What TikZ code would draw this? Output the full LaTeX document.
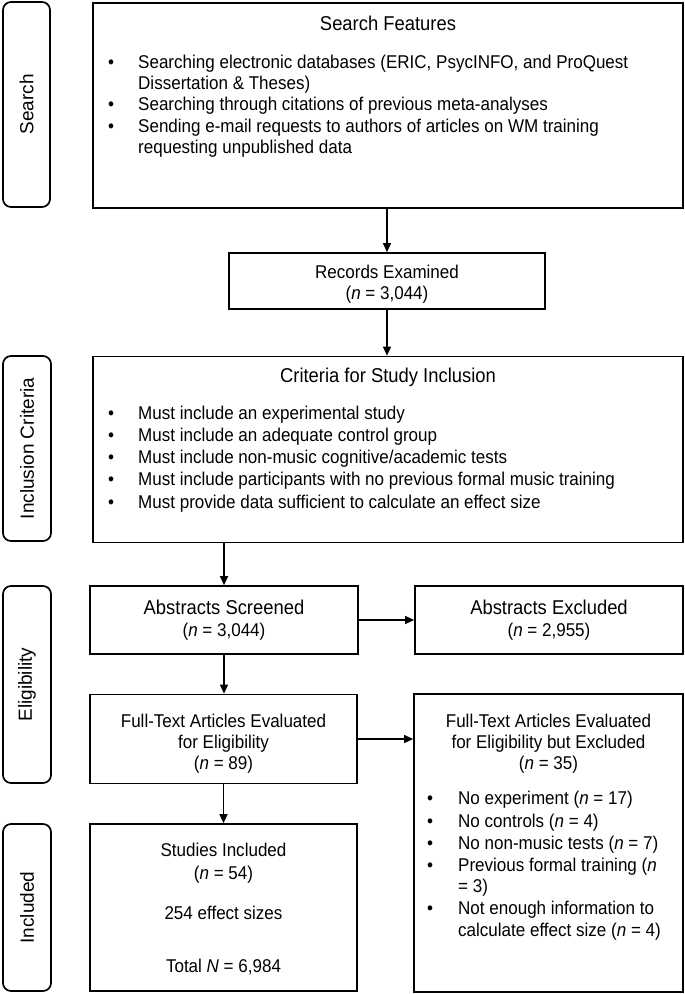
\documentclass[tikz,border=0pt]{standalone}
\usepackage{fontspec}
\setmainfont{Liberation Sans}[FakeStretch=0.92]
\newfontfamily\labfont{Liberation Sans}
\usetikzlibrary{arrows.meta}
\begin{document}
\begin{tikzpicture}[x=1pt,y=-1pt,
  box/.style={draw, line width=1.7pt, inner sep=0pt},
  side/.style={draw, line width=1.7pt, rounded corners=8pt, inner sep=0pt},
  arr/.style={line width=1.3pt, -{Triangle[length=9pt,width=8pt]}},
  tb/.style={anchor=base, inner sep=0pt, font=\fontsize{18.5}{22}\selectfont},
  tt/.style={anchor=base, inner sep=0pt, font=\fontsize{20}{24}\selectfont},
  tl/.style={anchor=base west, inner sep=0pt, font=\fontsize{18.5}{22}\selectfont},
  bul/.style={anchor=base, inner sep=0pt, font=\fontsize{18.5}{22}\selectfont},
  lab/.style={rotate=90, inner sep=0pt, font=\labfont\fontsize{19}{22}\selectfont}]
\useasboundingbox (0,0) rectangle (685,994);

% side labels
\node[side, minimum width=47pt, minimum height=205pt] (s1) at (26.5,104.5) {};
\node[lab] (l1) at (s1.center) {Search};
\node[side, minimum width=48pt, minimum height=185pt] (s2) at (27,448.5) {};
\node[lab] (l2) at (s2.center) {Inclusion Criteria};
\node[side, minimum width=48pt, minimum height=197pt] (s3) at (27,684.5) {};
\node[lab] (l3) at (s3.center) {Eligibility};
\node[side, minimum width=48pt, minimum height=167pt] (s4) at (27,907.5) {};
\node[lab] (l4) at (s4.center) {Included};

% boxes
\node[box, minimum width=590pt, minimum height=205pt] (search) at (388,105.5) {};
\node[box, minimum width=316pt, minimum height=56pt] (records) at (387,281) {};
\node[box, minimum width=590pt, minimum height=186pt] (crit) at (388,449.5) {};
\node[box, minimum width=268pt, minimum height=68pt] (abs) at (224,620) {};
\node[box, minimum width=268pt, minimum height=68pt] (absx) at (549,620) {};
\node[box, minimum width=267pt, minimum height=89pt] (full) at (223.5,739) {};
\node[box, minimum width=269pt, minimum height=298pt] (fullx) at (548.5,843) {};
\node[box, minimum width=267pt, minimum height=167pt] (stud) at (223.5,907.5) {};

% search text
\node[tt] (t1) at (388,30) {Search Features};
\node[bul] (b11) at (111,68.5) {\textbullet};
\node[tl] (t11) at (138,68.5) {Searching electronic databases (ERIC, PsycINFO, and ProQuest};
\node[tl] (t12) at (138,89.5) {Dissertation \& Theses)};
\node[bul] (b12) at (111,110.5) {\textbullet};
\node[tl] (t13) at (138,110.5) {Searching through citations of previous meta-analyses};
\node[bul] (b13) at (111,132.5) {\textbullet};
\node[tl] (t14) at (138,132.5) {Sending e-mail requests to authors of articles on WM training};
\node[tl] (t15) at (138,153.5) {requesting unpublished data};

% records
\node[tb] (r1) at (387,278.5) {Records Examined};
\node[tb] (r2) at (387,299.5) {(\textit{n} = 3,044)};

% criteria
\node[tt] (c0) at (388,382) {Criteria for Study Inclusion};
\foreach \yy/\tx [count=\i] in {419.5/{Must include an experimental study},
  441.5/{Must include an adequate control group},
  463.5/{Must include non-music cognitive/academic tests},
  485.5/{Must include participants with no previous formal music training},
  508.5/{Must provide data sufficient to calculate an effect size}} {
  \node[bul] (cb\i) at (111,\yy) {\textbullet};
  \node[tl] (ct\i) at (138,\yy) {\tx};
}

% abstracts
\node[tt] (a1) at (224,614) {Abstracts Screened};
\node[tb] (a2) at (224,636.5) {(\textit{n} = 3,044)};
\node[tt] (ax1) at (549,614) {Abstracts Excluded};
\node[tb] (ax2) at (549,636.5) {(\textit{n} = 2,955)};

% full text
\node[tb] (f1) at (223.5,727.5) {Full-Text Articles Evaluated};
\node[tb] (f2) at (223.5,748.5) {for Eligibility};
\node[tb] (f3) at (223.5,769.5) {(\textit{n} = 89)};
\node[tb] (fx1) at (548.5,727.5) {Full-Text Articles Evaluated};
\node[tb] (fx2) at (548.5,748.5) {for Eligibility but Excluded};
\node[tb] (fx3) at (548.5,769.5) {(\textit{n} = 35)};
\foreach \yy/\tx [count=\i] in {804.5/{No experiment (\textit{n} = 17)},
  827.5/{No controls (\textit{n} = 4)},
  849.5/{No non-music tests (\textit{n} = 7)},
  871.5/{Previous formal training (\textit{n}},
  914.5/{Not enough information to}} {
  \node[bul] (xb\i) at (430,\yy) {\textbullet};
  \node[tl] (xt\i) at (458,\yy) {\tx};
}
\node[tl] (xc1) at (458,892.5) {= 3)};
\node[tl] (xc2) at (458,936.5) {calculate effect size (\textit{n} = 4)};

% studies
\node[tb] (st1) at (223.5,856.5) {Studies Included};
\node[tb] (st2) at (223.5,879.5) {(\textit{n} = 54)};
\node[tb] (st3) at (223.5,919.5) {254 effect sizes};
\node[tb] (st4) at (223.5,972.5) {Total \textit{N} = 6,984};

% arrows
\draw[arr] (records.north |- search.south) -- (records.north);
\draw[arr] (records.south) -- (records.south |- crit.north);
\draw[arr] (abs.north |- crit.south) -- (abs.north);
\draw[arr] (abs.south) -- (abs.south |- full.north);
\draw[arr] (full.south) -- (stud.north);
\draw[arr] (abs.east) -- (absx.west);
\draw[arr] (full.east) -- (full.east -| fullx.west);
\end{tikzpicture}
\end{document}
